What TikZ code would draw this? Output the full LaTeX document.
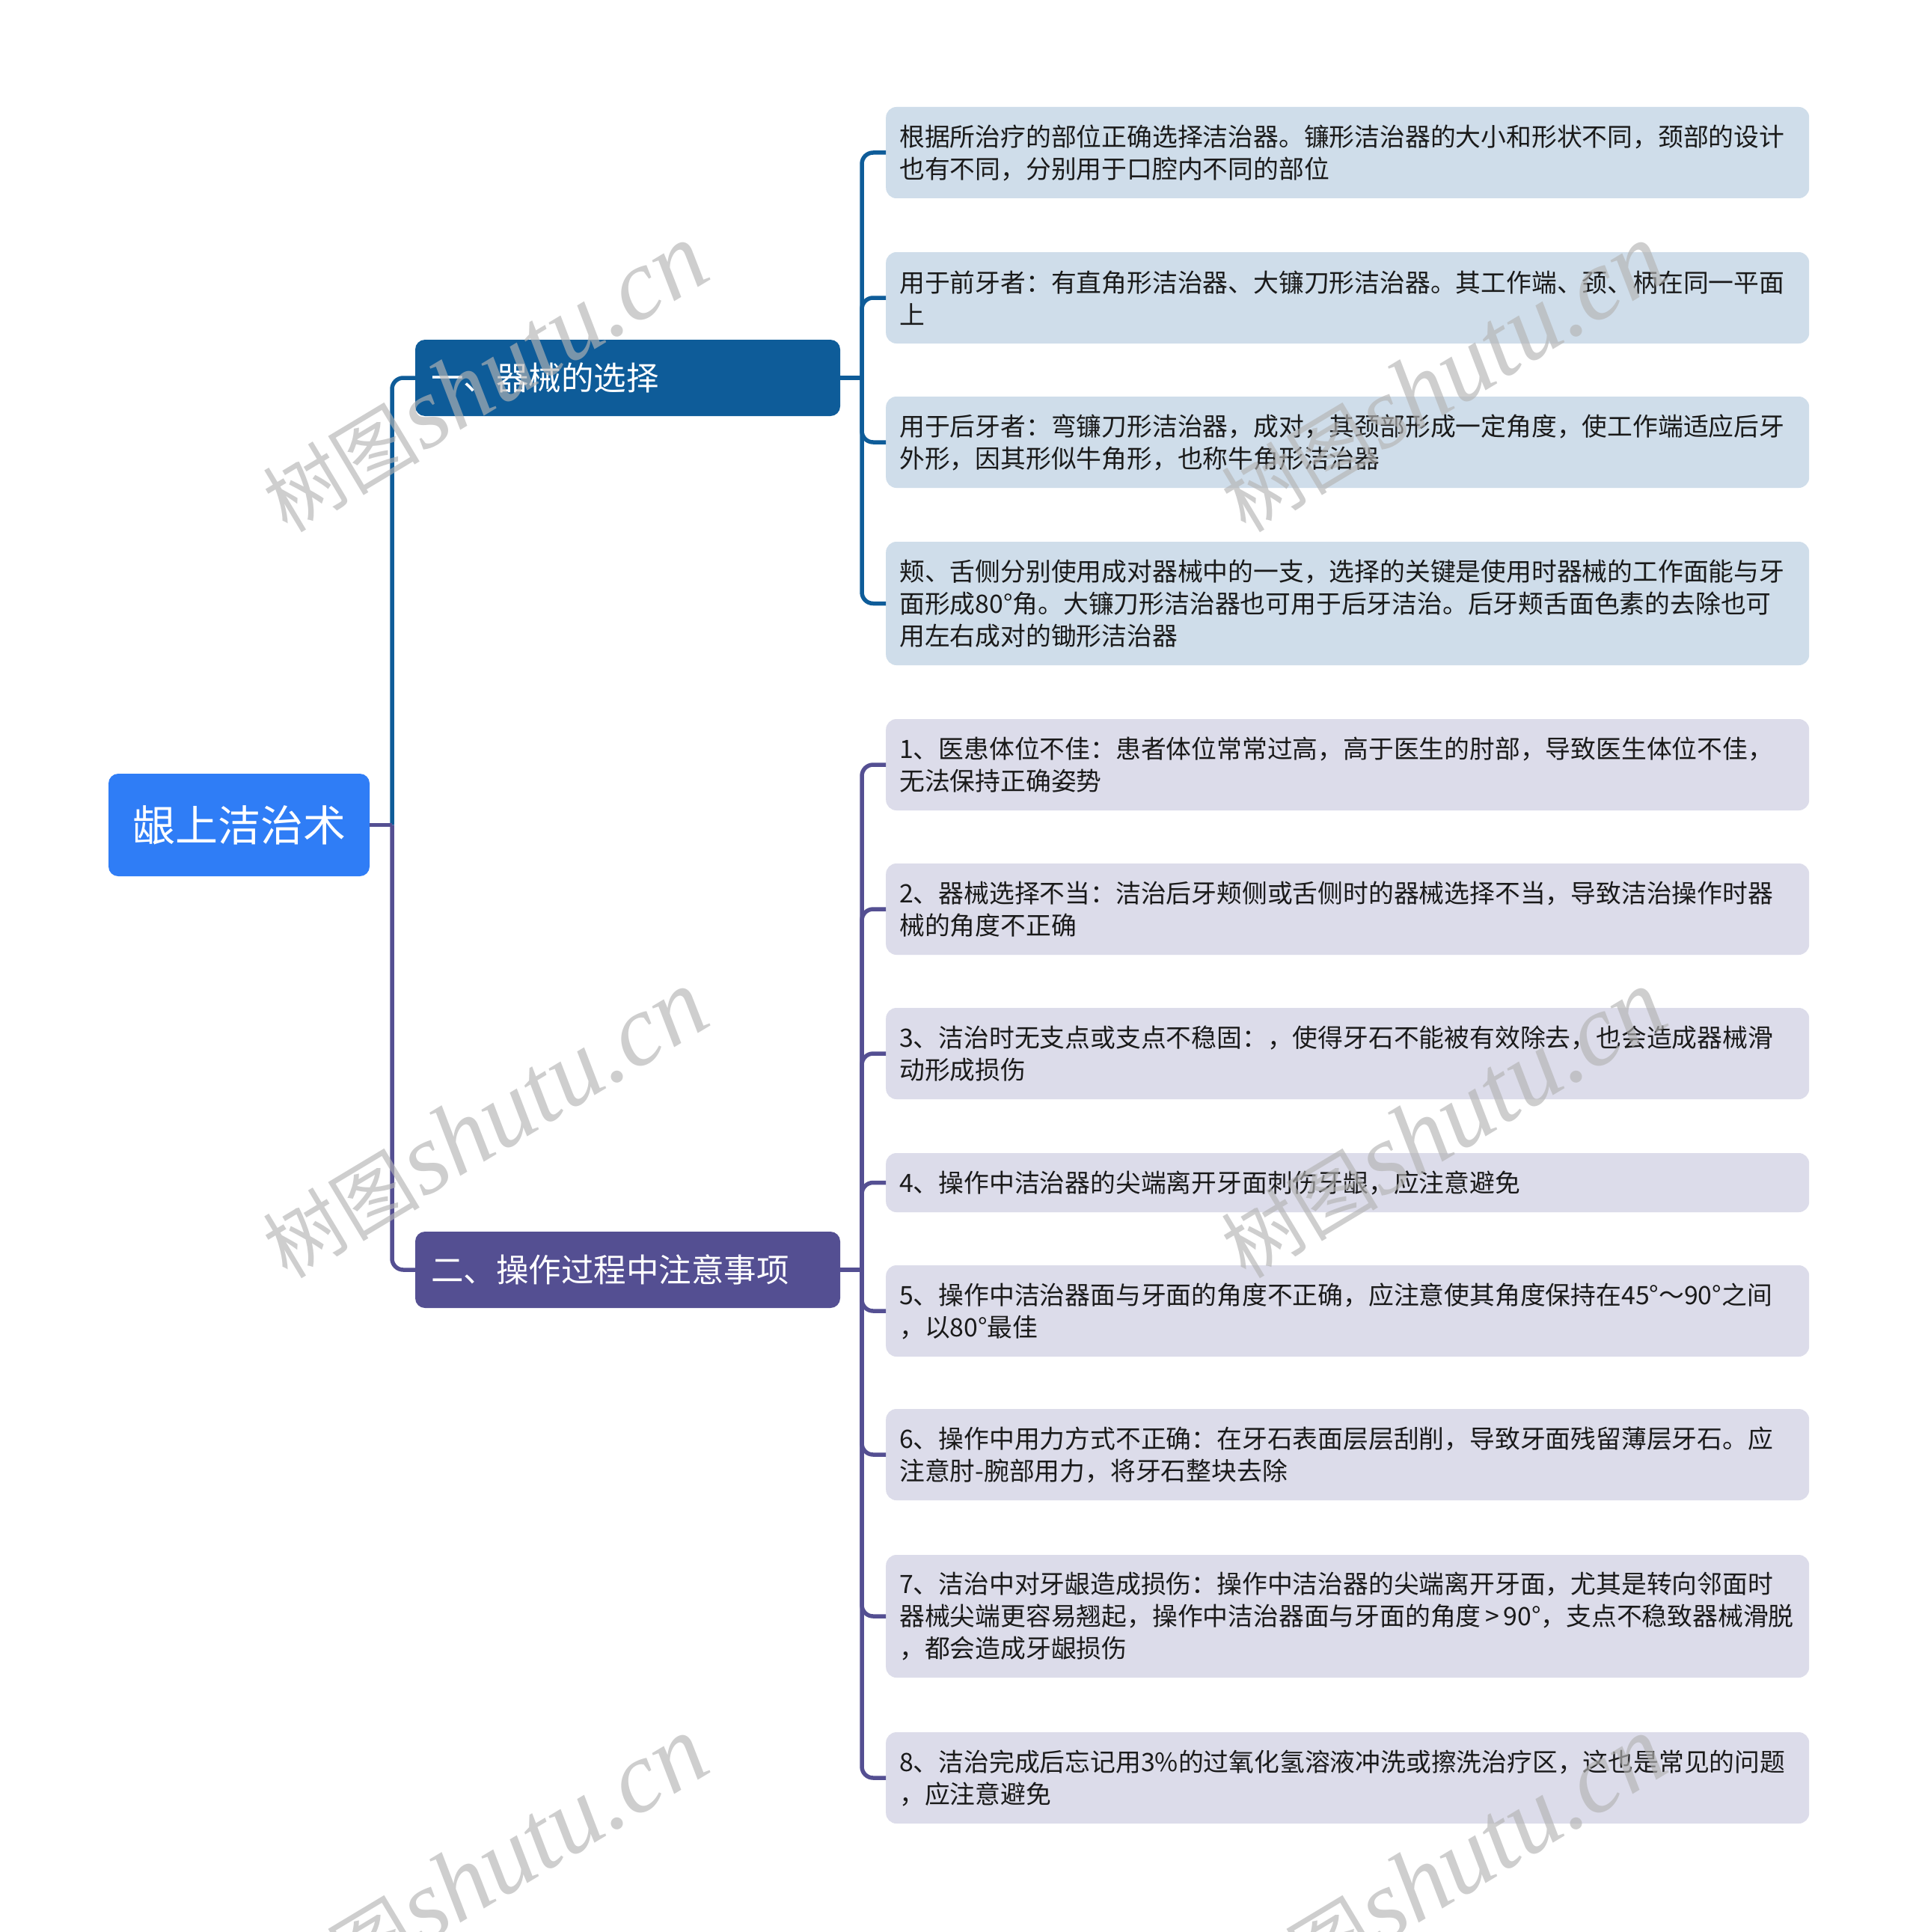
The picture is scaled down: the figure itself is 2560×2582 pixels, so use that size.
\documentclass[tikz,border=0pt]{standalone}
\usepackage{fontspec}
\setmainfont{Noto Sans CJK SC}
\newfontfamily\cjkwm{Noto Sans CJK SC}
\newfontfamily\wmserif{Liberation Serif}
\definecolor{rootc}{HTML}{2F7DF6}
\definecolor{brA}{HTML}{0E5C99}
\definecolor{brB}{HTML}{544F92}
\definecolor{leafA}{HTML}{CFDDEA}
\definecolor{leafB}{HTML}{DCDCEA}
\definecolor{txt}{HTML}{1A1A1A}
\definecolor{wmc}{HTML}{B4B4B4}
\tikzset{
  rootbox/.style={fill=rootc, rounded corners=13pt, text=white, font=\fontsize{57}{68}\selectfont, minimum width=349pt, minimum height=137pt, inner sep=0pt},
  branchbox/.style={rounded corners=13pt, text=white, font=\fontsize{43.5}{52}\selectfont, text width=526pt, inner xsep=21pt, inner ysep=0pt, minimum height=102pt, align=left},
  leaf/.style={rounded corners=14pt, text=txt, font=\fontsize{33.8}{43}\selectfont, text width=1198pt, inner xsep=18pt, inner ysep=0pt, align=left, anchor=west},
  leafone/.style={leaf, fill=leafA},
  leaftwo/.style={leaf, fill=leafB},
  conn/.style={line width=5.5pt},
  rconn/.style={line width=5.5pt, rounded corners=15pt},
  wm/.style={text=wmc, opacity=0.65, rotate=31, inner sep=0pt},
}
\newcommand{\wmtext}{{\cjkwm\fontsize{105}{110}\selectfont 树图}\,{\wmserif\itshape\fontsize{135}{140}\selectfont shutu.cn}}
\begin{document}
\begin{tikzpicture}[x=1pt,y=-1pt]
\useasboundingbox (0,0) rectangle (2560,2582);
\fill[white] (0,0) rectangle (2560,2582);

% root and branches
\node[rootbox] (root) at (319.5,1102.5) {龈上洁治术};
\node[branchbox, fill=brA] (b1) at (839,505) {一、器械的选择};
\node[branchbox, fill=brB] (b2) at (839,1697) {二、操作过程中注意事项};

% leaves of branch 1
\node[leafone, minimum height=122pt] (l1) at (1184,204) {根据所治疗的部位正确选择洁治器。镰形洁治器的大小和形状不同，颈部的设计\\也有不同，分别用于口腔内不同的部位};
\node[leafone, minimum height=122pt] (l2) at (1184,398) {用于前牙者：有直角形洁治器、大镰刀形洁治器。其工作端、颈、柄在同一平面\\上};
\node[leafone, minimum height=122pt] (l3) at (1184,591) {用于后牙者：弯镰刀形洁治器，成对，其颈部形成一定角度，使工作端适应后牙\\外形，因其形似牛角形，也称牛角形洁治器};
\node[leafone, minimum height=165pt] (l4) at (1184,806.5) {颊、舌侧分别使用成对器械中的一支，选择的关键是使用时器械的工作面能与牙\\面形成80°角。大镰刀形洁治器也可用于后牙洁治。后牙颊舌面色素的去除也可\\用左右成对的锄形洁治器};

% leaves of branch 2
\node[leaftwo, minimum height=122pt] (l5) at (1184,1022) {1、医患体位不佳：患者体位常常过高，高于医生的肘部，导致医生体位不佳，\\无法保持正确姿势};
\node[leaftwo, minimum height=122pt] (l6) at (1184,1215) {2、器械选择不当：洁治后牙颊侧或舌侧时的器械选择不当，导致洁治操作时器\\械的角度不正确};
\node[leaftwo, minimum height=122pt] (l7) at (1184,1408) {3、洁治时无支点或支点不稳固：，使得牙石不能被有效除去，也会造成器械滑\\动形成损伤};
\node[leaftwo, minimum height=79pt] (l8) at (1184,1580.5) {4、操作中洁治器的尖端离开牙面刺伤牙龈，应注意避免};
\node[leaftwo, minimum height=122pt] (l9) at (1184,1752) {5、操作中洁治器面与牙面的角度不正确，应注意使其角度保持在45°～90°之间\\，以80°最佳};
\node[leaftwo, minimum height=122pt] (l10) at (1184,1944) {6、操作中用力方式不正确：在牙石表面层层刮削，导致牙面残留薄层牙石。应\\注意肘-腕部用力，将牙石整块去除};
\node[leaftwo, minimum height=164pt] (l11) at (1184,2160) {7、洁治中对牙龈造成损伤：操作中洁治器的尖端离开牙面，尤其是转向邻面时\\器械尖端更容易翘起，操作中洁治器面与牙面的角度\,>\,90°，支点不稳致器械滑脱\\，都会造成牙龈损伤};
\node[leaftwo, minimum height=122pt] (l12) at (1184,2376) {8、洁治完成后忘记用3\%的过氧化氢溶液冲洗或擦洗治疗区，这也是常见的问题\\，应注意避免};

% junction coordinates
\coordinate (rj) at (524,1102.5);
\coordinate (j1) at (1152,505);
\coordinate (j2) at (1152,1697);

% root to branches
\draw[conn, brA] (root.east) -- (rj);
\draw[rconn, brA] (rj) |- (b1.west);
\draw[rconn, brB] (rj) |- (b2.west);
\draw[conn, brB] (root.east) -- (rj);

% branch 1 to leaves
\draw[conn, brA] (b1.east) -- (j1);
\foreach \n in {l1,l2,l3,l4} \draw[rconn, brA] (j1) |- (\n.west);

% branch 2 to leaves
\draw[conn, brB] (b2.east) -- (j2);
\foreach \n in {l5,l6,l7,l8,l9,l10,l11,l12} \draw[rconn, brB] (j2) |- (\n.west);

% watermarks
\node[wm] (w1) at (648,506) {\wmtext};
\node[wm] (w2) at (1929,506) {\wmtext};
\node[wm] (w3) at (648,1503) {\wmtext};
\node[wm] (w4) at (1929,1503) {\wmtext};
\node[wm] (w5) at (648,2501) {\wmtext};
\node[wm] (w6) at (1929,2501) {\wmtext};
\end{tikzpicture}
\end{document}
